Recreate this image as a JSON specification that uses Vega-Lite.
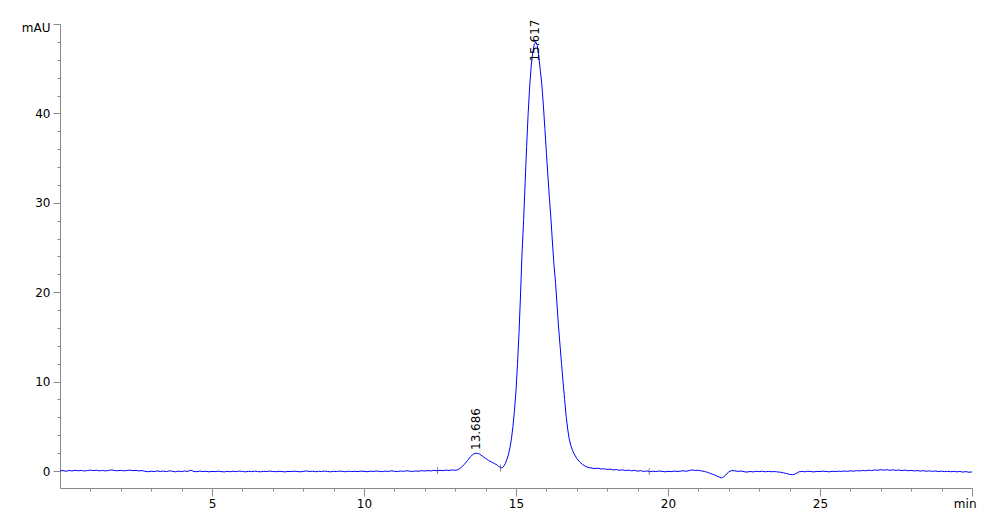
{
  "$schema": "https://vega.github.io/schema/vega-lite/v6.json",
  "autosize": {"type": "none"},
  "padding": {"left": 60, "top": 24, "right": 28, "bottom": 35},
  "width": 912,
  "height": 464,
  "config": {"view": {"stroke": null}, "font": "DejaVu Sans"},
  "datasets": {
    "trace": [
      {"t":0.0,"v":0.02},{"t":0.1,"v":0.05},{"t":0.2,"v":-0.03},{"t":0.3,"v":0.06},{"t":0.4,"v":0.01},{"t":0.5,"v":0.08},{"t":0.6,"v":0.03},{"t":0.7,"v":0.07},{"t":0.8,"v":0.0},{"t":0.9,"v":0.05},
      {"t":1.0,"v":0.1},{"t":1.1,"v":0.04},{"t":1.2,"v":0.09},{"t":1.3,"v":0.02},{"t":1.4,"v":0.06},{"t":1.5,"v":0.01},{"t":1.6,"v":0.07},{"t":1.7,"v":0.12},{"t":1.8,"v":0.05},{"t":1.9,"v":0.03},
      {"t":2.0,"v":0.08},{"t":2.1,"v":0.02},{"t":2.2,"v":0.06},{"t":2.3,"v":0.1},{"t":2.4,"v":0.04},{"t":2.5,"v":0.07},{"t":2.6,"v":0.01},{"t":2.7,"v":0.05},{"t":2.8,"v":-0.04},{"t":2.9,"v":-0.08},
      {"t":3.0,"v":-0.02},{"t":3.1,"v":-0.06},{"t":3.2,"v":0.01},{"t":3.3,"v":-0.05},{"t":3.4,"v":-0.01},{"t":3.5,"v":-0.07},{"t":3.6,"v":0.02},{"t":3.7,"v":-0.03},{"t":3.8,"v":-0.09},{"t":3.9,"v":-0.02},
      {"t":4.0,"v":-0.06},{"t":4.1,"v":0.0},{"t":4.2,"v":-0.05},{"t":4.3,"v":0.08},{"t":4.4,"v":-0.04},{"t":4.5,"v":-0.08},{"t":4.6,"v":-0.01},{"t":4.7,"v":-0.06},{"t":4.8,"v":-0.03},{"t":4.9,"v":-0.09},
      {"t":5.0,"v":-0.04},{"t":5.1,"v":-0.07},{"t":5.2,"v":-0.02},{"t":5.3,"v":-0.06},{"t":5.4,"v":-0.1},{"t":5.5,"v":-0.04},{"t":5.6,"v":-0.08},{"t":5.7,"v":-0.03},{"t":5.8,"v":-0.07},{"t":5.9,"v":-0.01},
      {"t":6.0,"v":-0.05},{"t":6.1,"v":-0.09},{"t":6.2,"v":-0.04},{"t":6.3,"v":-0.07},{"t":6.4,"v":-0.02},{"t":6.5,"v":-0.06},{"t":6.6,"v":-0.09},{"t":6.7,"v":-0.03},{"t":6.8,"v":-0.06},{"t":6.9,"v":-0.01},
      {"t":7.0,"v":-0.05},{"t":7.1,"v":-0.08},{"t":7.2,"v":-0.03},{"t":7.3,"v":-0.06},{"t":7.4,"v":-0.1},{"t":7.5,"v":-0.04},{"t":7.6,"v":-0.07},{"t":7.7,"v":-0.02},{"t":7.8,"v":-0.05},{"t":7.9,"v":-0.09},
      {"t":8.0,"v":-0.04},{"t":8.1,"v":0.01},{"t":8.2,"v":-0.06},{"t":8.3,"v":-0.02},{"t":8.4,"v":-0.08},{"t":8.5,"v":-0.03},{"t":8.6,"v":-0.06},{"t":8.7,"v":-0.01},{"t":8.8,"v":-0.05},{"t":8.9,"v":-0.09},
      {"t":9.0,"v":-0.03},{"t":9.1,"v":-0.06},{"t":9.2,"v":-0.01},{"t":9.3,"v":-0.05},{"t":9.4,"v":-0.08},{"t":9.5,"v":-0.02},{"t":9.6,"v":-0.06},{"t":9.7,"v":-0.03},{"t":9.8,"v":-0.07},{"t":9.9,"v":-0.01},
      {"t":10.0,"v":-0.04},{"t":10.1,"v":-0.08},{"t":10.2,"v":-0.02},{"t":10.3,"v":-0.05},{"t":10.4,"v":0.0},{"t":10.5,"v":-0.04},{"t":10.6,"v":-0.07},{"t":10.7,"v":-0.01},{"t":10.8,"v":-0.05},{"t":10.9,"v":0.02},
      {"t":11.0,"v":-0.03},{"t":11.1,"v":-0.06},{"t":11.2,"v":0.0},{"t":11.3,"v":-0.04},{"t":11.4,"v":0.03},{"t":11.5,"v":-0.02},{"t":11.6,"v":-0.05},{"t":11.7,"v":0.01},{"t":11.8,"v":-0.03},{"t":11.9,"v":0.04},
      {"t":12.0,"v":0.0},{"t":12.1,"v":0.05},{"t":12.2,"v":0.01},{"t":12.3,"v":0.07},{"t":12.4,"v":0.03},{"t":12.5,"v":0.08},{"t":12.6,"v":0.04},{"t":12.7,"v":0.1},{"t":12.8,"v":0.06},{"t":12.9,"v":0.12},
      {"t":13.0,"v":0.08},{"t":13.1,"v":0.15},{"t":13.2,"v":0.4},{"t":13.3,"v":0.75},{"t":13.4,"v":1.15},{"t":13.5,"v":1.6},{"t":13.6,"v":1.9},{"t":13.7,"v":2.0},{"t":13.8,"v":1.9},{"t":13.9,"v":1.65},
      {"t":14.0,"v":1.4},{"t":14.1,"v":1.18},{"t":14.2,"v":1.0},{"t":14.3,"v":0.82},{"t":14.4,"v":0.62},{"t":14.45,"v":0.45},{"t":14.5,"v":0.35},{"t":14.55,"v":0.38},{"t":14.6,"v":0.55},{"t":14.65,"v":0.85},
      {"t":14.7,"v":1.3},{"t":14.75,"v":1.8},{"t":14.8,"v":2.6},{"t":14.85,"v":3.6},{"t":14.9,"v":5.0},{"t":14.95,"v":6.8},{"t":15.0,"v":9.0},{"t":15.05,"v":12.0},{"t":15.1,"v":15.5},{"t":15.15,"v":19.8},
      {"t":15.2,"v":24.5},{"t":15.25,"v":28.0},{"t":15.3,"v":32.2},{"t":15.35,"v":36.3},{"t":15.4,"v":40.0},{"t":15.45,"v":43.0},{"t":15.5,"v":45.3},{"t":15.55,"v":46.8},{"t":15.6,"v":47.7},{"t":15.65,"v":48.0},
      {"t":15.7,"v":47.6},{"t":15.75,"v":46.4},{"t":15.8,"v":44.8},{"t":15.85,"v":43.2},{"t":15.9,"v":40.9},{"t":15.95,"v":38.3},{"t":16.0,"v":35.6},{"t":16.05,"v":33.0},{"t":16.1,"v":30.5},{"t":16.15,"v":28.2},
      {"t":16.2,"v":25.5},{"t":16.25,"v":23.0},{"t":16.3,"v":21.1},{"t":16.35,"v":18.6},{"t":16.4,"v":16.1},{"t":16.45,"v":14.0},{"t":16.5,"v":11.9},{"t":16.55,"v":9.9},{"t":16.6,"v":8.0},{"t":16.65,"v":6.1},
      {"t":16.7,"v":4.7},{"t":16.75,"v":3.6},{"t":16.8,"v":2.9},{"t":16.85,"v":2.4},{"t":16.9,"v":2.0},{"t":17.0,"v":1.4},{"t":17.1,"v":1.0},{"t":17.2,"v":0.7},{"t":17.3,"v":0.5},{"t":17.4,"v":0.38},
      {"t":17.5,"v":0.32},{"t":17.6,"v":0.28},{"t":17.7,"v":0.31},{"t":17.8,"v":0.22},{"t":17.9,"v":0.25},{"t":18.0,"v":0.18},{"t":18.1,"v":0.21},{"t":18.2,"v":0.12},{"t":18.3,"v":0.16},{"t":18.4,"v":0.08},
      {"t":18.5,"v":0.13},{"t":18.6,"v":0.05},{"t":18.7,"v":0.1},{"t":18.8,"v":0.02},{"t":18.9,"v":0.07},{"t":19.0,"v":-0.02},{"t":19.1,"v":0.04},{"t":19.2,"v":-0.05},{"t":19.3,"v":0.01},{"t":19.4,"v":-0.08},
      {"t":19.5,"v":-0.02},{"t":19.6,"v":-0.06},{"t":19.7,"v":0.0},{"t":19.8,"v":-0.04},{"t":19.9,"v":-0.09},{"t":20.0,"v":-0.03},{"t":20.1,"v":-0.07},{"t":20.2,"v":-0.01},{"t":20.3,"v":-0.05},{"t":20.4,"v":-0.02},
      {"t":20.5,"v":0.03},{"t":20.6,"v":-0.03},{"t":20.7,"v":0.05},{"t":20.8,"v":0.12},{"t":20.9,"v":0.06},{"t":21.0,"v":0.08},{"t":21.1,"v":0.01},{"t":21.2,"v":-0.05},{"t":21.3,"v":-0.15},{"t":21.4,"v":-0.28},
      {"t":21.5,"v":-0.4},{"t":21.6,"v":-0.55},{"t":21.7,"v":-0.7},{"t":21.75,"v":-0.78},{"t":21.8,"v":-0.72},{"t":21.9,"v":-0.45},{"t":22.0,"v":-0.08},{"t":22.1,"v":0.05},{"t":22.2,"v":0.02},{"t":22.3,"v":-0.04},
      {"t":22.4,"v":0.0},{"t":22.5,"v":-0.08},{"t":22.6,"v":-0.12},{"t":22.7,"v":-0.05},{"t":22.8,"v":-0.1},{"t":22.9,"v":-0.03},{"t":23.0,"v":-0.07},{"t":23.1,"v":-0.02},{"t":23.2,"v":-0.09},{"t":23.3,"v":-0.04},
      {"t":23.4,"v":-0.08},{"t":23.5,"v":-0.06},{"t":23.6,"v":-0.1},{"t":23.7,"v":-0.14},{"t":23.8,"v":-0.2},{"t":23.9,"v":-0.28},{"t":24.0,"v":-0.38},{"t":24.1,"v":-0.42},{"t":24.2,"v":-0.3},{"t":24.3,"v":-0.1},
      {"t":24.4,"v":-0.04},{"t":24.5,"v":-0.09},{"t":24.6,"v":-0.02},{"t":24.7,"v":-0.06},{"t":24.8,"v":-0.1},{"t":24.9,"v":-0.04},{"t":25.0,"v":-0.07},{"t":25.1,"v":-0.01},{"t":25.2,"v":-0.05},{"t":25.3,"v":-0.09},
      {"t":25.4,"v":-0.03},{"t":25.5,"v":-0.07},{"t":25.6,"v":-0.02},{"t":25.7,"v":-0.05},{"t":25.8,"v":0.0},{"t":25.9,"v":-0.04},{"t":26.0,"v":0.02},{"t":26.1,"v":-0.02},{"t":26.2,"v":0.04},{"t":26.3,"v":0.01},
      {"t":26.4,"v":0.06},{"t":26.5,"v":0.03},{"t":26.6,"v":0.09},{"t":26.7,"v":0.05},{"t":26.8,"v":0.12},{"t":26.9,"v":0.08},{"t":27.0,"v":0.15},{"t":27.1,"v":0.1},{"t":27.2,"v":0.14},{"t":27.3,"v":0.08},
      {"t":27.4,"v":0.13},{"t":27.5,"v":0.07},{"t":27.6,"v":0.11},{"t":27.7,"v":0.05},{"t":27.8,"v":0.1},{"t":27.9,"v":0.03},{"t":28.0,"v":0.07},{"t":28.1,"v":0.01},{"t":28.2,"v":0.05},{"t":28.3,"v":-0.01},
      {"t":28.4,"v":0.04},{"t":28.5,"v":-0.03},{"t":28.6,"v":0.02},{"t":28.7,"v":-0.04},{"t":28.8,"v":0.0},{"t":28.9,"v":-0.06},{"t":29.0,"v":-0.02},{"t":29.1,"v":-0.07},{"t":29.2,"v":-0.03},{"t":29.3,"v":-0.08},
      {"t":29.4,"v":-0.04},{"t":29.5,"v":-0.09},{"t":29.6,"v":-0.05},{"t":29.7,"v":-0.12},{"t":29.8,"v":-0.07},{"t":29.9,"v":-0.14},{"t":30.0,"v":-0.1}
    ],
    "markers": [
      {"t": 12.42, "v": 0.05},
      {"t": 14.49, "v": 0.35},
      {"t": 19.38, "v": -0.05}
    ],
    "peaks": [
      {"t": 13.686, "v": 2.35, "label": "13.686"},
      {"t": 15.617, "v": 45.8, "label": "15.617"}
    ]
  },
  "resolve": {"axis": {"x": "independent", "y": "independent"}},
  "layer": [
    {
      "data": {"name": "trace"},
      "mark": {"type": "line", "color": "#0000ff", "strokeWidth": 1, "clip": true},
      "encoding": {
        "x": {"field": "t", "type": "quantitative",
          "scale": {"domain": [0, 30], "nice": false, "zero": false},
          "axis": {"orient": "bottom", "title": null, "values": [5, 10, 15, 20, 25, 30],
            "labelExpr": "datum.value == 30 ? 'min' : datum.label",
            "labelFlush": true, "labelFlushOffset": 4, "grid": false, "tickSize": 8, "labelPadding": 2,
            "domainColor": "#8a8a8a", "tickColor": "#8a8a8a", "labelColor": "#000000",
            "labelFont": "DejaVu Sans", "labelFontSize": 12}},
        "y": {"field": "v", "type": "quantitative",
          "scale": {"domain": [-1.9, 50], "nice": false, "zero": false},
          "axis": {"orient": "left", "title": null, "values": [0, 10, 20, 30, 40, 50],
            "labelExpr": "datum.value == 50 ? 'mAU' : datum.label",
            "labelFlush": true, "labelFlushOffset": 2,
            "grid": false, "tickSize": 7, "labelPadding": 3,
            "domainColor": "#8a8a8a", "tickColor": "#8a8a8a", "labelColor": "#000000",
            "labelFont": "DejaVu Sans", "labelFontSize": 12}}
      }
    },
    {
      "data": {"name": "markers"},
      "mark": {"type": "tick", "orient": "vertical", "size": 7, "thickness": 1, "color": "#555555"},
      "encoding": {
        "x": {"field": "t", "type": "quantitative",
          "axis": {"orient": "bottom", "title": null,
            "values": [1,2,3,4,6,7,8,9,11,12,13,14,16,17,18,19,21,22,23,24,26,27,28,29],
            "labels": false, "domain": false, "grid": false, "tickSize": 3, "tickColor": "#8a8a8a"}},
        "y": {"field": "v", "type": "quantitative",
          "axis": {"orient": "left", "title": null,
            "values": [2,4,6,8,12,14,16,18,22,24,26,28,32,34,36,38,42,44,46,48],
            "labels": false, "domain": false, "grid": false, "tickSize": 3, "tickColor": "#8a8a8a"}}
      }
    },
    {
      "data": {"name": "peaks"},
      "mark": {"type": "text", "angle": 270, "align": "left", "baseline": "middle",
        "font": "DejaVu Sans", "fontSize": 12, "color": "#000000"},
      "encoding": {
        "x": {"field": "t", "type": "quantitative", "axis": null},
        "y": {"field": "v", "type": "quantitative", "axis": null},
        "text": {"field": "label"}
      }
    }
  ]
}
